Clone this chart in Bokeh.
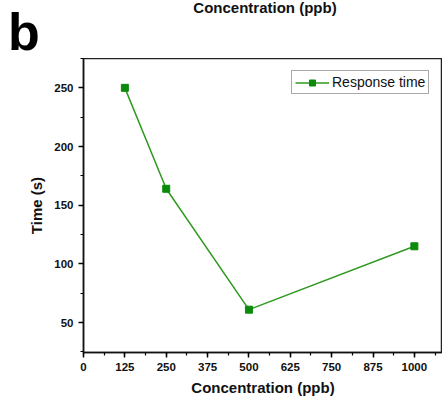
from bokeh.plotting import figure
from bokeh.layouts import column
from bokeh.models import Legend, LegendItem, SingleIntervalTicker, Range1d, Div
from bokeh.embed import file_html
from bokeh.resources import INLINE

concentration = [125, 250, 500, 1000]
response_time = [250, 164, 61, 115]
series_name = "Response time"
x_label = "Concentration (ppb)"
y_label = "Time (s)"
panel_letter = "b"
top_text = "Concentration (ppb)"

FONT = "Liberation Sans"
LINE_C = "#2f9a1f"
MARK_C = "#0b8a0b"
W = 442
TOP_H = 58

head_html = (
    f'<div style="position:relative;width:{W}px;height:{TOP_H}px;'
    f'font-family:\'{FONT}\';color:#111;">'
    f'<span style="position:absolute;left:0;top:0;width:530px;text-align:center;'
    f'font-weight:bold;font-size:15px;line-height:15px;white-space:nowrap;">{top_text}</span>'
    f'<span style="position:absolute;left:8px;top:10px;font-weight:bold;font-size:52px;'
    f'line-height:44px;color:#000;">{panel_letter}</span>'
    '</div>'
)
head = Div(text=head_html, width=W, height=TOP_H, margin=(0, 0, 0, 0))

p = figure(width=W, height=403 - TOP_H, output_backend="svg", toolbar_location=None,
           x_range=Range1d(0, 1085), y_range=Range1d(24.5, 275),
           min_border_left=83, min_border_top=0, min_border_bottom=51, min_border_right=0)

p.xgrid.visible = False
p.ygrid.visible = False
p.outline_line_color = "#222222"
p.outline_line_width = 1.5
p.background_fill_color = "white"
p.border_fill_color = "white"

for ax in (p.xaxis[0], p.yaxis[0]):
    ax.axis_line_width = 1.5
    ax.axis_line_color = "#111111"
    ax.major_tick_line_width = 1.5
    ax.minor_tick_line_width = 1.2
    ax.major_tick_in = 0
    ax.major_tick_out = 5
    ax.minor_tick_in = 0
    ax.minor_tick_out = 3
    ax.major_label_text_font = FONT
    ax.major_label_text_font_style = "bold"
    ax.major_label_text_font_size = "11.5px"
    ax.major_label_text_color = "#111111"
    ax.major_label_standoff = 5
    ax.axis_label_text_font = FONT
    ax.axis_label_text_font_style = "bold"
    ax.axis_label_text_font_size = "15px"
    ax.axis_label_text_color = "#111111"

p.xaxis.ticker = SingleIntervalTicker(interval=125, num_minor_ticks=2)
p.yaxis.ticker = SingleIntervalTicker(interval=50, num_minor_ticks=2)
p.xaxis.axis_label = x_label
p.yaxis.axis_label = y_label
p.xaxis.axis_label_standoff = 5
p.yaxis.axis_label_standoff = 6

r_line = p.line(concentration, response_time, line_color=LINE_C, line_width=1.5)
r_mark = p.scatter(concentration, response_time, marker="square", size=7,
                   fill_color=MARK_C, line_color=MARK_C)

legend = Legend(items=[LegendItem(label=series_name, renderers=[r_line, r_mark])],
                location=(208, 258), orientation="vertical")
legend.label_text_font = FONT
legend.label_text_font_size = "14px"
legend.label_text_color = "#111111"
legend.glyph_width = 34
legend.glyph_height = 15
legend.label_standoff = 3
legend.padding = 3
legend.spacing = 0
legend.margin = 0
legend.border_line_color = "#555555"
legend.border_line_width = 1
legend.background_fill_alpha = 1
p.add_layout(legend, "center")

layout = column(head, p, spacing=0)
open("out.html", "w").write(file_html(layout, INLINE))
